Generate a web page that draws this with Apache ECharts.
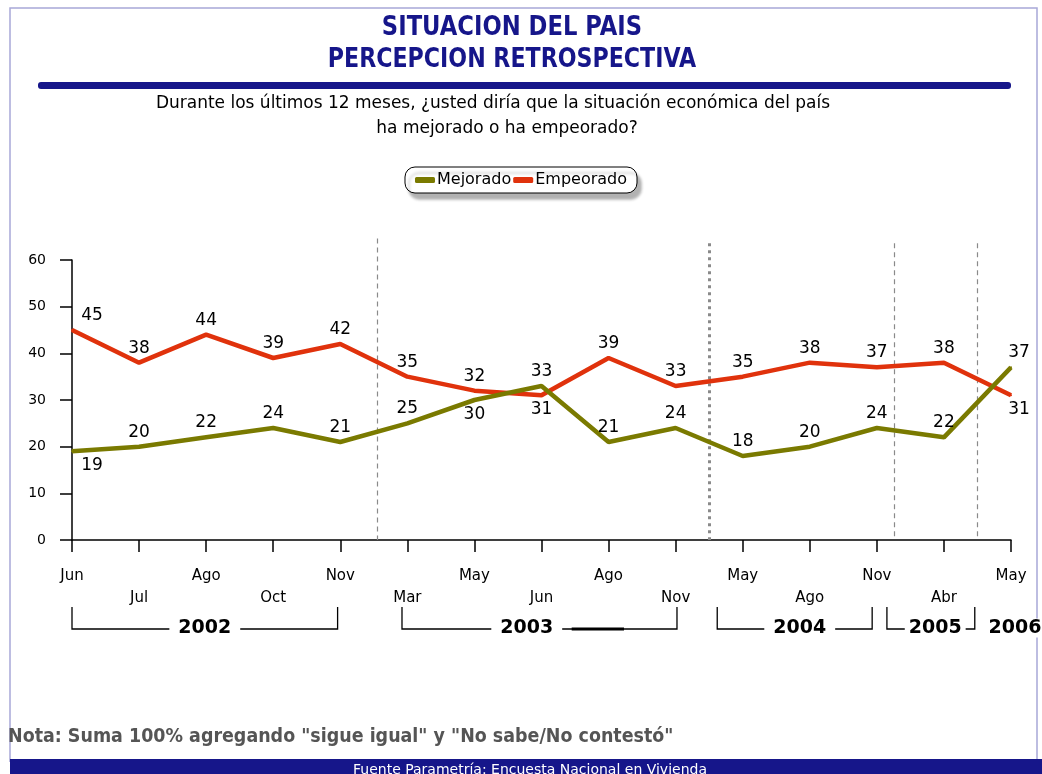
<!DOCTYPE html>
<html><head><meta charset="utf-8">
<script src="https://cdn.jsdelivr.net/npm/echarts@6/dist/echarts.min.js"></script>
<style>html,body{margin:0;padding:0;background:#fff}#c{width:1042px;height:774px}</style>
</head><body><div id="c"></div>
<script>
// ---- data ----
const categories = ['Jun','Jul','Ago','Oct','Nov','Mar','May','Jun','Ago','Nov','May','Ago','Nov','Abr','May'];
const mejorado  = [19,20,22,24,21,25,30,33,21,24,18,20,24,22,37];
const empeorado = [45,38,44,39,42,35,32,31,39,33,35,38,37,38,31];
const yTicks = [0,10,20,30,40,50,60];
const years = ['2002','2003','2004','2005','2006'];
const mejLabelBelow = [0,6];
const empLabelBelow = [7,14];

// ---- layout (in category-index units along x) ----
const layout = {
  dividers: [
    {x:4.55, top:64.6, dotted:false},
    {x:9.5, top:63.6, dotted:true},
    {x:12.26, top:63.6, dotted:false},
    {x:13.5, top:63.6, dotted:false}
  ],
  yearSpans: [[0,3.96],[4.92,9.02],[9.62,11.93],[12.15,13.46],null],
  yearCenters: [1.98,6.78,10.85,12.87,14.06],
  bracketTop: 607, bracketBottom: 629, yearY: 628
};

const FONT = 'DejaVu Sans';
const RED = '#e0320c', OLIVE = '#7a7a00', NAVY = '#16168a';

function labelFor(i, below, lastIdx) {
  const l = {show: true, position: below.includes(i) ? 'bottom' : 'top', distance: 5,
    fontFamily: FONT, fontSize: 17, color: '#000'};
  if (i === 0) l.offset = [20, 0];
  if (i === lastIdx) l.offset = [8, 0];
  return l;
}

const chart = echarts.init(document.getElementById('c'), null, {renderer:'canvas'});
const option = {
  backgroundColor: '#fff',
  animation: false,
  legend: {
    data: ['Mejorado','Empeorado'],
    left: 'center', top: 167,
    icon: 'roundRect', itemWidth: 20, itemHeight: 6, itemGap: 2,
    padding: [5,10],
    borderColor: '#000', borderWidth: 1, borderRadius: 10,
    backgroundColor: '#fff',
    shadowColor: 'rgba(0,0,0,0.3)', shadowBlur: 3, shadowOffsetX: 4, shadowOffsetY: 6,
    textStyle: {fontFamily: FONT, fontSize: 16, color: '#000', padding:[0,0,0,-3]}
  },
  grid: {left: 72, right: 31, top: 260, bottom: 234},
  xAxis: [{
    type: 'category', data: categories, boundaryGap: false,
    axisLine: {lineStyle: {color: '#000', width: 1.5}},
    axisTick: {show: true, length: 12, interval: 0, lineStyle: {color:'#000', width: 1.5}},
    axisLabel: {interval: 0, margin: 25, lineHeight: 22, fontFamily: FONT, fontSize: 15, color: '#000',
      formatter: (v, i) => (i % 2 ? '\n' + v : v)},
    splitLine: {show: false}
  }, {
    type: 'value', min: 0, max: categories.length - 1, show: false
  }],
  yAxis: {
    type: 'value', min: yTicks[0], max: yTicks[yTicks.length-1], interval: 10,
    axisLine: {show: true, lineStyle: {color: '#000', width: 1.5}},
    axisTick: {show: true, length: 12, lineStyle: {color: '#000', width: 1.5}},
    axisLabel: {margin: 26, fontFamily: FONT, fontSize: 14, color: '#000'},
    splitLine: {show: false}
  },
  series: [
    {
      name: 'Mejorado', type: 'line', symbol: 'circle', symbolSize: 2, showSymbol: true, color: OLIVE,
      itemStyle: {color: OLIVE},
      lineStyle: {width: 4.5, color: OLIVE},
      data: mejorado.map((v,i)=>({value:v, label: labelFor(i, mejLabelBelow, mejorado.length-1)})),
      label: {show: true},
      z: 3
    },
    {
      name: 'Empeorado', type: 'line', symbol: 'circle', symbolSize: 2, showSymbol: true, color: RED,
      itemStyle: {color: RED},
      lineStyle: {width: 4.5, color: RED},
      data: empeorado.map((v,i)=>({value:v, label: labelFor(i, empLabelBelow, empeorado.length-1)})),
      label: {show: true},
      z: 2
    }
  ]
};
chart.setOption(option);

// ---- dividers, year brackets, texts, footer, frame ----
const g = [];
const px = v => chart.convertToPixel({xAxisIndex: 1}, v);
const py = v => chart.convertToPixel({yAxisIndex: 0}, v);
layout.dividers.forEach(d => {
  const x = Math.round(px(d.x)) + 0.5;
  g.push({type:'line', silent:true, z:1,
    shape:{x1:x, y1:py(d.top), x2:x, y2:py(0)},
    style: d.dotted ? {stroke:'#8a8a8a', lineWidth:3, lineDash:[3,4]} : {stroke:'#8a8a8a', lineWidth:1.2, lineDash:[5,4]}});
});
layout.yearSpans.forEach((s, k) => {
  if (s) {
    const x0 = px(s[0]), x1 = px(s[1]);
    g.push({type:'polyline', shape:{points:[[x0,layout.bracketTop],[x0,layout.bracketBottom],[x1,layout.bracketBottom],[x1,layout.bracketTop]]},
      style:{stroke:'#000', lineWidth:1.3, fill:null}, z:10});
  }
  g.push({type:'text', x: px(layout.yearCenters[k]), y: layout.yearY, z: 11,
    style:{text: years[k], fontFamily: FONT, fontWeight:'bold', fontSize: 19, fill:'#000',
      align:'center', verticalAlign:'middle', backgroundColor:'#fff', padding:[0, k===3?4:9]}});
});
// thick segment in 2003 bracket
g.push({type:'line', shape:{x1:px(7.45), y1:layout.bracketBottom, x2:px(8.23), y2:layout.bracketBottom},
  style:{stroke:'#000', lineWidth:3}, z:12});
// titles (condensed)
g.push({type:'text', x:512, y:28, scaleX:0.84, z:5, style:{text:'SITUACION DEL PAIS',
  fontFamily:FONT, fontWeight:'bold', fontSize:27, fill:NAVY, align:'center', verticalAlign:'middle'}});
g.push({type:'text', x:512, y:60, scaleX:0.82, z:5, style:{text:'PERCEPCION RETROSPECTIVA',
  fontFamily:FONT, fontWeight:'bold', fontSize:27, fill:NAVY, align:'center', verticalAlign:'middle'}});
g.push({type:'text', x:493, y:104, z:5, style:{text:'Durante los últimos 12 meses, ¿usted diría que la situación económica del país',
  fontFamily:FONT, fontSize:17, fill:'#000', align:'center', verticalAlign:'middle'}});
g.push({type:'text', x:507, y:129, z:5, style:{text:'ha mejorado o ha empeorado?',
  fontFamily:FONT, fontSize:17, fill:'#000', align:'center', verticalAlign:'middle'}});
// frame
g.push({type:'polyline', shape:{points:[[10,762],[10,8],[1037,8],[1037,762]]}, style:{stroke:'#a8a8d8', lineWidth:1.5, fill:null}, z:0});
// blue rule
g.push({type:'rect', shape:{x:38, y:82, width:973, height:7, r:3}, style:{fill:NAVY}, z:5});
// note
g.push({type:'text', x:8, y:737, scaleX:0.92, style:{text:'Nota: Suma 100% agregando "sigue igual" y "No sabe/No contestó"',
  fontFamily: FONT, fontWeight:'bold', fontSize:19, fill:'#555', verticalAlign:'middle'}, z:5});
// footer
g.push({type:'rect', shape:{x:10, y:759, width:1032, height:15}, style:{fill:NAVY}, z:5});
g.push({type:'text', x:530, y:770, style:{text:'Fuente Parametría: Encuesta Nacional en Vivienda',
  fontFamily: FONT, fontSize:14, fill:'#fff', align:'center', verticalAlign:'middle'}, z:6});
chart.setOption({graphic: g});
</script>
</body></html>
